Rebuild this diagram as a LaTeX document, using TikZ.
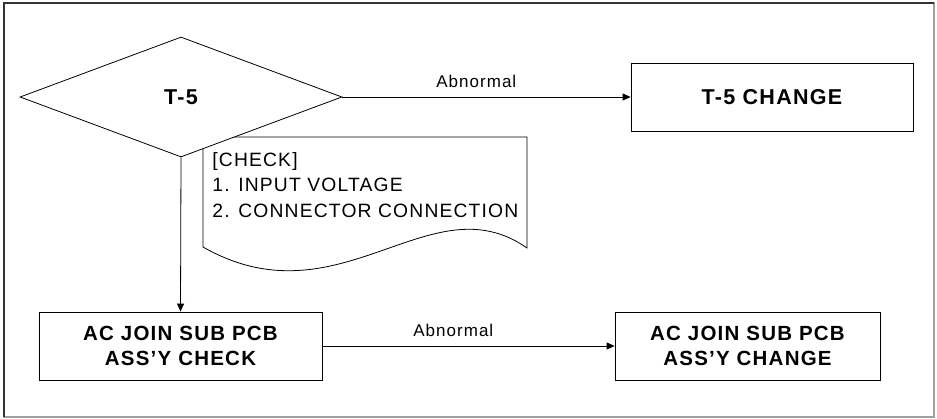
\documentclass[tikz,border=0pt]{standalone}
\usepackage{fontspec}
\setmainfont{Liberation Sans}
\newfontfamily\widefont[LetterSpace=6]{Liberation Sans}
\usetikzlibrary{shapes.geometric,arrows.meta}
\begin{document}
\begin{tikzpicture}[x=1pt,y=-1pt,
  line width=0.8pt,
  arr/.style={-{Triangle[length=8pt,width=7pt]}},
  boxnode/.style={draw, inner sep=0pt, minimum height=68pt, align=center,
    font=\widefont\bfseries\fontsize{20.5}{25}\selectfont},
  lbl/.style={inner sep=0pt, anchor=base west, font=\widefont\fontsize{17}{20}\selectfont},
  decision/.style={diamond, draw, fill=white, inner sep=0pt, minimum width=322pt,
    minimum height=120pt, aspect=2.68, font=\widefont\bfseries\fontsize{21.5}{25}\selectfont}
]
\useasboundingbox (0,0) rectangle (937,419);
\fill[white] (0,0) rectangle (937,419);
% frame
\draw[gray!75, line width=1.6pt] (4,3) rectangle (934,417);
\draw[gray!40!black, line width=1.6pt] (4,417) -- (4,3) -- (934,3);

% note (document shape), drawn under the diamond
\draw (203,137) -- (527,137) -- (527,248)
  .. controls (430,180) and (340,325) .. (203,247) -- cycle;
\node[inner sep=0pt, anchor=north west, align=left,
  font=\widefont\fontsize{19.3}{25.5}\selectfont] (notetext) at (212,152)
  {[CHECK]\\1. INPUT VOLTAGE\\2. CONNECTOR CONNECTION};

% nodes
\node[decision] (t5) at (181,97) {T-5};
\node[boxnode, minimum width=282pt, font=\widefont\bfseries\fontsize{21.5}{25}\selectfont] (t5chg) at (772,97) {T-5 CHANGE};
\node[boxnode, minimum width=283pt] (acchk) at (180.5,346) {AC JOIN SUB PCB\\ASS’Y CHECK};
\node[boxnode, minimum width=265pt] (acchg) at (747.5,346) {AC JOIN SUB PCB\\ASS’Y CHANGE};

% connectors
\draw[arr] (t5.east) -- (t5chg.west);
\draw[arr] (t5.south) -- (acchk.north);
\draw[arr] (acchk.east) -- (acchg.west);

% labels
\node[lbl] (ab1) at (436,88) {Abnormal};
\node[lbl] (ab2) at (413,337) {Abnormal};
\end{tikzpicture}
\end{document}
